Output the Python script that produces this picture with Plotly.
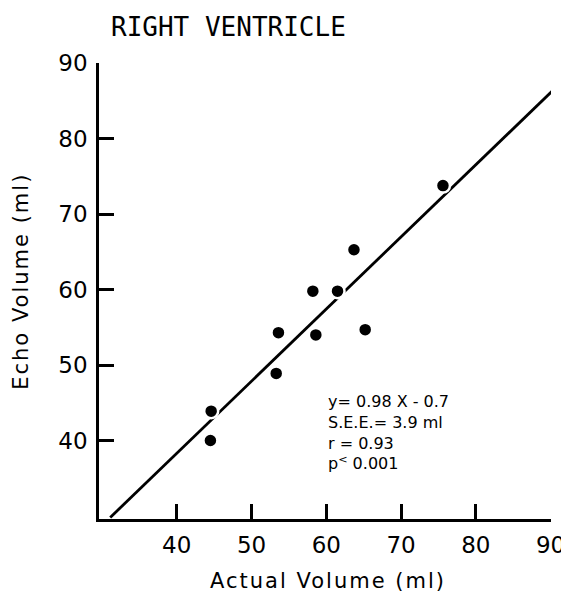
import plotly.graph_objects as go

# Data
actual_volume = [44.5, 44.6, 53.3, 53.6, 58.2, 58.6, 61.5, 63.7, 65.2, 75.6]
echo_volume = [40.0, 43.9, 48.9, 54.3, 59.8, 54.0, 59.8, 65.3, 54.7, 73.8]

# Regression line endpoints (y = 0.98 X - 0.7), as drawn
line_x = [31.1, 90.7]
line_y = [29.8, 86.8]

tick_vals = [40, 50, 60, 70, 80, 90]
tick_text = ["40", "50", "60", "70", "80", "90"]

stats_lines = ["y= 0.98 X - 0.7", "S.E.E.= 3.9 ml", "r = 0.93", "p<sup>&lt;</sup> 0.001"]

fig = go.Figure()
fig.add_trace(go.Scatter(x=line_x, y=line_y, mode="lines",
                         line=dict(color="black", width=2.8), showlegend=False,
                         hoverinfo="skip", cliponaxis=False))
fig.add_trace(go.Scatter(x=actual_volume, y=echo_volume, mode="markers",
                         marker=dict(color="black", size=14,
                                     line=dict(color="white", width=2.5)),
                         showlegend=False))

axis_common = dict(
    showline=True, linecolor="black", linewidth=2.5,
    ticks="inside", ticklen=15, tickwidth=2.5, tickcolor="black",
    showgrid=False, zeroline=False,
    tickvals=tick_vals, ticktext=tick_text,
    tickfont=dict(family="DejaVu Sans", size=23, color="black"),
)

spaced = '<span style="letter-spacing:2px">{}</span>'

fig.update_layout(
    width=569, height=587,
    margin=dict(l=91.4, r=20.3, t=55, b=76),
    plot_bgcolor="white", paper_bgcolor="white",
    xaxis=dict(range=[29.6, 90.05], ticklabelstandoff=4, **axis_common),
    yaxis=dict(range=[29.6, 90.05], ticklabelstandoff=4, **axis_common),
    annotations=[
        dict(text="RIGHT VENTRICLE", xref="paper", yref="paper",
             x=0.022, y=1.0796, xanchor="left", yanchor="middle", showarrow=False,
             font=dict(family="DejaVu Sans Mono", size=26, color="black")),
        dict(text=spaced.format("Actual Volume (ml)"), xref="paper", yref="paper",
             x=0.507, y=-0.136, xanchor="center", yanchor="middle", showarrow=False,
             font=dict(family="DejaVu Sans", size=21, color="black")),
        dict(text=spaced.format("Echo Volume (ml)"), xref="paper", yref="paper",
             x=-0.173, y=0.522, xanchor="center", yanchor="middle", showarrow=False,
             textangle=-90,
             font=dict(family="DejaVu Sans", size=21, color="black")),
        dict(text="<br>".join(stats_lines), xref="x", yref="y",
             x=59.9, y=46.7, xanchor="left", yanchor="top", align="left",
             showarrow=False,
             font=dict(family="DejaVu Sans", size=16, color="black")),
    ],
)

fig.write_html("out.html", config={"displayModeBar": False})
